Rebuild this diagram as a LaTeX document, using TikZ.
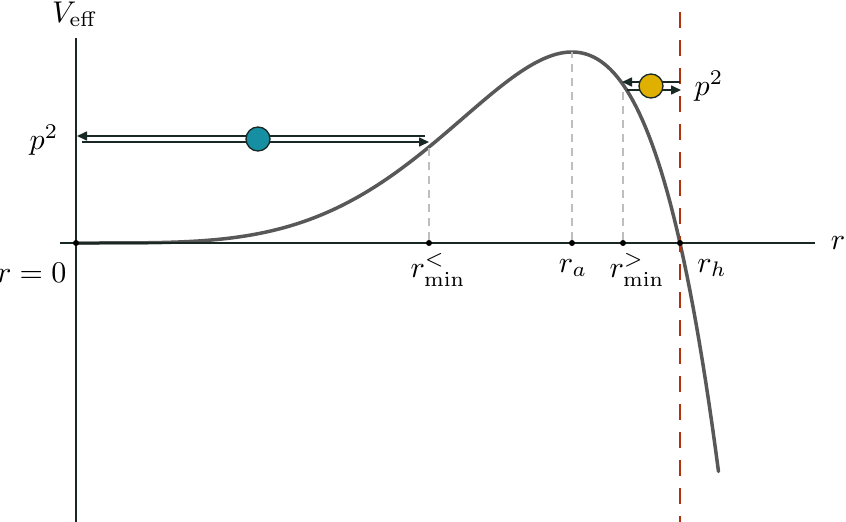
\documentclass[tikz,border=0pt]{standalone}
\usetikzlibrary{arrows.meta}
\definecolor{axiscol}{RGB}{24,40,36}
\definecolor{curvecol}{RGB}{88,88,88}
\definecolor{bluecol}{RGB}{22,143,163}
\definecolor{yelcol}{RGB}{224,176,0}
\definecolor{redcol}{RGB}{176,48,16}
\definecolor{guidecol}{RGB}{190,190,190}
\begin{document}
\begin{tikzpicture}[x=1pt,y=-1pt,
  axisline/.style={draw=axiscol,line width=2pt},
  dot/.style={circle,fill=black,inner sep=0pt,minimum size=6pt},
  lbl/.style={scale=3.0,inner sep=0pt},
  guide/.style={draw=guidecol,line width=1.5pt,dash pattern=on 8pt off 6pt},
  horizon/.style={draw=redcol,line width=2pt,dash pattern=on 16pt off 12pt},
  motion/.style={draw=axiscol,line width=1.6pt,-{Triangle[length=10pt,width=9pt]}},
  ball/.style={circle,draw=axiscol,line width=1.3pt,minimum size=24pt,inner sep=0pt}]
\useasboundingbox (0,0) rectangle (846,522);
% coordinates
\coordinate (ytop) at (76,38);
\coordinate (ybot) at (76,522);
\coordinate (xl) at (60,243);
\coordinate (xr) at (815,243);
\coordinate (htop) at (680,12);
\coordinate (hbot) at (680,522);
\coordinate (cstart) at (76,243);
% curve
\draw[draw=curvecol,line width=3.5pt,line cap=round]
  (cstart) -- plot[domain=0.02:1.296,samples=200] ({76+496*\x},{243-877.35*\x*\x*\x*\x*(1.2177-\x)*exp(0.593*(\x-1))});
% axes
\draw[axisline] (ytop) -- (ybot);
\draw[axisline] (xl) -- (xr);
% horizon
\draw[horizon] (htop) -- (hbot);
% points
\node[dot] (p0) at (76,243) {};
\node[dot] (pmin1) at (429,243) {};
\node[dot] (pa) at (572,243) {};
\node[dot] (pmin2) at (623,243) {};
\node[dot] (ph) at (680,243) {};
\coordinate (c1) at (429,142);
\coordinate (c2) at (572,52);
\coordinate (c3) at (623,87);
\draw[guide] (pmin1) -- (c1);
\draw[guide] (pa) -- (c2);
\draw[guide] (pmin2) -- (c3);
% labels
\node[lbl] (veff) at (75,14) {$V_{\mathrm{eff}}$};
\node[lbl] (rlab) at (838,243) {$r$};
\node[lbl,anchor=east] (r0) at (67,273) {$r=0$};
\node[lbl] (lmin1) at (438,270) {$r_{\min}^{<}$};
\node[lbl] (la) at (573,268) {$r_a$};
\node[lbl] (lmin2) at (637,270) {$r_{\min}^{>}$};
\node[lbl] (lh) at (712,268) {$r_h$};
\node[lbl] (pl) at (44,140) {$p^2$};
\node[lbl] (pr) at (709,86) {$p^2$};
% blue particle
\coordinate (b1s) at (425,136);
\coordinate (b1e) at (77,136);
\coordinate (b2s) at (82,142);
\coordinate (b2e) at (429,142);
\draw[motion] (b1s) -- (b1e);
\draw[motion] (b2s) -- (b2e);
\node[ball,fill=bluecol] (blue) at (258,139) {};
% yellow particle
\coordinate (y1s) at (680,82);
\coordinate (y1e) at (622,82);
\coordinate (y2s) at (627,90);
\coordinate (y2e) at (681,90);
\draw[motion] (y1s) -- (y1e);
\draw[motion] (y2s) -- (y2e);
\node[ball,fill=yelcol] (yellow) at (651,86) {};
\end{tikzpicture}
\end{document}
